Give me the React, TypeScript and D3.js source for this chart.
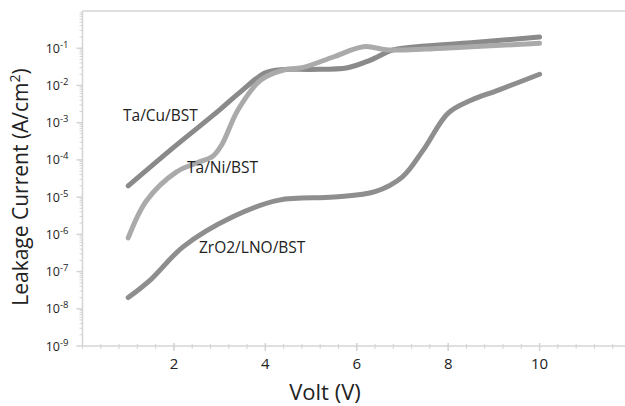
import { useEffect, useRef } from "react";
import * as d3 from "d3";

// voltage points (V) and current density (A/cm2) for each stack
const cuVolts = [1, 2, 3, 3.5, 4, 4.4, 5, 5.8, 6.3, 6.8, 7.5, 8.5, 10];
const cuCurrent = [2e-5, 2.2e-4, 2.2e-3, 7.5e-3, 2.2e-2, 2.7e-2, 2.7e-2, 3e-2, 4.8e-2, 9e-2, 1.15e-1, 1.4e-1, 2e-1];

const niVolts = [1, 1.4, 2.05, 2.5, 2.85, 3.05, 3.4, 3.9, 4.4, 4.8, 5.5, 6.15, 6.7, 7.5, 8.5, 10];
const niCurrent = [8e-7, 8e-6, 4.7e-5, 8.3e-5, 1.25e-4, 2.6e-4, 2.2e-3, 1.4e-2, 2.6e-2, 3e-2, 5.9e-2, 1.1e-1, 9e-2, 9.5e-2, 1.1e-1, 1.35e-1];

const zrVolts = [1, 1.5, 2.2, 3.3, 4.3, 5.5, 6.4, 7, 7.45, 8, 8.5, 9.1, 10];
const zrCurrent = [2e-8, 6.2e-8, 4.6e-7, 3e-6, 8.3e-6, 1e-5, 1.4e-5, 3.5e-5, 1.8e-4, 1.8e-3, 4e-3, 7.5e-3, 2e-2];

const seriesNames = ["Ta/Cu/BST", "Ta/Ni/BST", "ZrO2/LNO/BST"];
const seriesColors = ["#8a8a8a", "#aaaaaa", "#8e8e8e"];
const xTicks = [2, 4, 6, 8, 10];
const yExponents = [-9, -8, -7, -6, -5, -4, -3, -2, -1];

export default function App() {
  const svgRef = useRef<SVGSVGElement | null>(null);

  useEffect(() => {
    const width = 625;
    const height = 406;
    const margin = { top: 11, right: -6, bottom: 60, left: 82.5 };
    const font = "'Open Sans', sans-serif";

    const svg = d3.select(svgRef.current);
    svg.selectAll("*").remove();

    const x = d3.scaleLinear().domain([0, 12]).range([margin.left, width - margin.right]);
    const y = d3.scaleLog().domain([1e-9, 1]).range([height - margin.bottom, margin.top]);

    const axisColor = "#d4d4d4";

    // frame top line
    svg.append("line")
      .attr("x1", margin.left).attr("x2", width)
      .attr("y1", y(1)).attr("y2", y(1))
      .attr("stroke", axisColor).attr("stroke-width", 1.5);

    // y axis
    svg.append("line")
      .attr("x1", margin.left).attr("x2", margin.left)
      .attr("y1", y(1)).attr("y2", y(1e-9))
      .attr("stroke", axisColor).attr("stroke-width", 1.5);

    // minor y ticks
    for (let e = -9; e < 0; e++) {
      for (let m = 2; m <= 9; m++) {
        svg.append("line")
          .attr("x1", margin.left - 3).attr("x2", margin.left)
          .attr("y1", y(m * Math.pow(10, e))).attr("y2", y(m * Math.pow(10, e)))
          .attr("stroke", axisColor).attr("stroke-width", 1);
      }
    }

    // major y ticks + labels
    yExponents.forEach(e => {
      const yy = y(Math.pow(10, e));
      svg.append("line")
        .attr("x1", margin.left - 6).attr("x2", margin.left)
        .attr("y1", yy).attr("y2", yy)
        .attr("stroke", axisColor).attr("stroke-width", 1.5);
      const t = svg.append("text")
        .attr("x", margin.left - 14)
        .attr("y", yy + 4.5)
        .attr("text-anchor", "end")
        .style("font-family", font)
        .style("font-size", "12.5px")
        .style("fill", "#222");
      t.append("tspan").text("10");
      t.append("tspan").attr("dy", -5).style("font-size", "9.5px").text(`${e}`);
    });

    // x axis
    svg.append("line")
      .attr("x1", margin.left).attr("x2", width)
      .attr("y1", y(1e-9)).attr("y2", y(1e-9))
      .attr("stroke", axisColor).attr("stroke-width", 1.5);

    d3.range(0, 12.01, 0.4).forEach(v => {
      svg.append("line")
        .attr("x1", x(v)).attr("x2", x(v))
        .attr("y1", y(1e-9) - 2).attr("y2", y(1e-9) + 3)
        .attr("stroke", axisColor).attr("stroke-width", 1);
    });

    xTicks.forEach(v => {
      svg.append("line")
        .attr("x1", x(v)).attr("x2", x(v))
        .attr("y1", y(1e-9) - 3).attr("y2", y(1e-9) + 5)
        .attr("stroke", axisColor).attr("stroke-width", 1.5);
      svg.append("text")
        .attr("x", x(v))
        .attr("y", 369)
        .attr("text-anchor", "middle")
        .style("font-family", font)
        .style("font-size", "15px")
        .style("fill", "#222")
        .text(v);
    });

    // axis titles
    svg.append("text")
      .attr("x", 325)
      .attr("y", 400)
      .attr("text-anchor", "middle")
      .style("font-family", font)
      .style("font-size", "22px")
      .style("fill", "#222")
      .text("Volt (V)");

    const yt = svg.append("text")
      .attr("transform", "translate(28,187) rotate(-90)")
      .attr("text-anchor", "middle")
      .style("font-family", font)
      .style("font-size", "21px")
      .style("fill", "#222");
    yt.append("tspan").text("Leakage Current (A/cm");
    yt.append("tspan").attr("dy", -8).style("font-size", "14px").text("2");
    yt.append("tspan").attr("dy", 8).text(")");

    // curves
    const line = d3.line<[number, number]>()
      .x(d => x(d[0]))
      .y(d => y(d[1]))
      .curve(d3.curveCatmullRom.alpha(0.5));

    const seriesData: [number, number][][] = [
      cuVolts.map((v, i) => [v, cuCurrent[i]]),
      niVolts.map((v, i) => [v, niCurrent[i]]),
      zrVolts.map((v, i) => [v, zrCurrent[i]]),
    ];

    [2, 0, 1].forEach(i => {
      svg.append("path")
        .datum(seriesData[i])
        .attr("fill", "none")
        .attr("stroke", seriesColors[i])
        .attr("stroke-width", 5)
        .attr("stroke-linecap", "round")
        .attr("d", line);
    });

    // series labels
    const labelPos = [[123, 121], [187, 173], [199, 253]];
    seriesNames.forEach((name, i) => {
      svg.append("text")
        .attr("x", labelPos[i][0])
        .attr("y", labelPos[i][1])
        .style("font-family", font)
        .style("font-size", "15.5px")
        .style("fill", "#222")
        .text(name);
    });
  }, []);

  return (
    <div style={{ position: "absolute", left: 0, top: 0 }}>
      <svg ref={svgRef} width={625} height={406} style={{ display: "block", background: "#fff" }} />
    </div>
  );
}
